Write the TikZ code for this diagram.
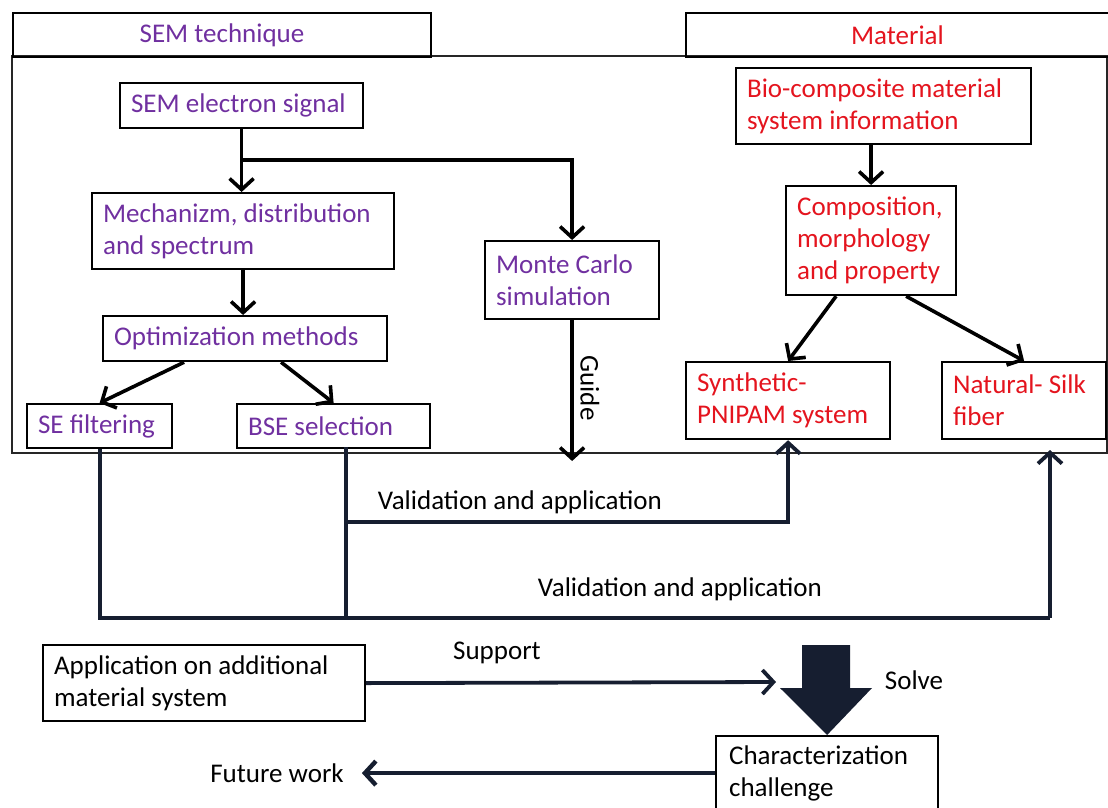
\documentclass[tikz,border=0pt]{standalone}
\usepackage{fontspec}
\setmainfont{Carlito}
\usetikzlibrary{arrows.meta,calc,positioning}
\definecolor{sempurple}{RGB}{112,48,160}
\definecolor{matred}{RGB}{228,20,30}
\definecolor{navy}{RGB}{22,30,48}
\tikzset{
  box/.style={draw,line width=2.2pt,anchor=north west,align=flush left,inner xsep=11pt,inner ysep=3pt},
  tab/.style={draw,line width=2pt,anchor=north west,inner sep=0pt},
  barb/.style={-{Straight Barb[length=11pt,width=24pt]}},
  flow/.style={line width=3.6pt,barb},
  link/.style={line width=3.8pt,draw=navy},
  lbl/.style={inner sep=0pt}
}

\begin{document}
\begin{tikzpicture}[x=1pt,y=-1pt,font=\fontsize{27}{32}\selectfont]
  \useasboundingbox (0,0) rectangle (1108,807);

  % frame and tabs
  \draw[line width=2pt,draw=black!85] (12,56) rectangle (1107,453);
  \node[tab,minimum width=418pt,minimum height=44pt,text=sempurple] (tabsem) at (12,12) {SEM technique};
  \node[tab,minimum width=423pt,minimum height=44pt,text=matred] (tabmat) at (685,12) {Material};

  % SEM side
  \node[box,text width=221pt,minimum height=45pt,text=sempurple] (sig) at (119,82) {SEM electron signal};
  \node[box,text width=280pt,minimum height=76pt,text=sempurple] (mech) at (91,192) {Mechanizm, distribution\\and spectrum};
  \node[box,text width=152pt,minimum height=78pt,text=sempurple] (mc) at (484,240) {Monte Carlo\\simulation};
  \node[box,text width=262pt,minimum height=45pt,text=sempurple] (opt) at (102,315) {Optimization methods};
  \node[box,text width=123pt,minimum height=44pt,text=sempurple] (sef) at (26,403) {SE filtering};
  \node[box,text width=171pt,minimum height=44pt,text=sempurple] (bse) at (236,403) {BSE selection};

  % material side
  \node[box,text width=273pt,minimum height=76pt,text=matred] (bio) at (735,67) {Bio-composite material\\system information};
  \node[box,text width=148pt,minimum height=109pt,text=matred] (comp) at (785,185) {Composition,\\morphology\\and property};
  \node[box,text width=182pt,minimum height=77pt,text=matred] (syn) at (685,361) {Synthetic-\\PNIPAM system};
  \node[box,text width=142pt,minimum height=77pt,text=matred] (nat) at (941,361) {Natural- Silk\\fiber};

  % bottom part
  \node[box,text width=300pt,minimum height=76pt] (app) at (42,644) {Application on additional\\material system};
  \node[box,text width=196pt,minimum height=74pt,inner xsep=13pt] (chal) at (715,735) {Characterization\\challenge};

  % labels
  \node[lbl,rotate=-90] (guide) at (590,388) {Guide};
  \node[lbl] (val1) at (520,502) {Validation and application};
  \node[lbl] (val2) at (680,589) {Validation and application};
  \node[lbl] (sup) at (497,653) {Support};
  \node[lbl] (solve) at (914,680) {Solve};
  \node[lbl] (fut) at (277,773) {Future work};

  % route points
  \coordinate (fork) at (240,160);
  \coordinate (guidetip) at (568,461);
  \coordinate (rail) at (0,618);
  \coordinate (upper) at (0,522);
  \coordinate (bsedrop) at (346,447);
  \coordinate (natin) at (1050,450);
  \coordinate (suptip) at (776,682);
  \coordinate (futtip) at ([xshift=18pt]fut.east);

  % upper arrows
  \draw[flow] (sig.south) -- (sig.south |- mech.north);
  \draw[flow] (fork) -| (mc.north);
  \draw[flow] (mech.south) -- (mech.south |- opt.north);
  \draw[flow] ([xshift=-61pt]opt.south) -- (sef.north);
  \draw[flow] ([xshift=36pt]opt.south) -- (bse.north);
  \draw[flow] (mc.south) -- (mc.south |- guidetip);
  \draw[flow] (comp.north |- bio.south) -- (comp.north);
  \draw[flow] ([xshift=-35pt]comp.south) -- (syn.north);
  \draw[flow] ([xshift=35pt]comp.south) -- (nat.north);

  % validation links
  \draw[link] (sef.south) |- (natin |- rail);
  \draw[link,barb] (natin |- rail) -- (natin);
  \draw[link] (bsedrop) -- (bsedrop |- rail);
  \draw[link,barb] (bsedrop |- upper) -| (syn.south);

  % support, solve, future work
  \draw[link,barb] (app.east) -- (suptip);
  \fill[navy] (802,645) -- (850,645) -- (850,688) -- (872,688) -- (chal.north) -- (780,688) -- (802,688) -- cycle;
  \draw[link,line width=4.4pt,barb] (chal.west) -- (futtip |- chal.west);
\end{tikzpicture}
\end{document}
